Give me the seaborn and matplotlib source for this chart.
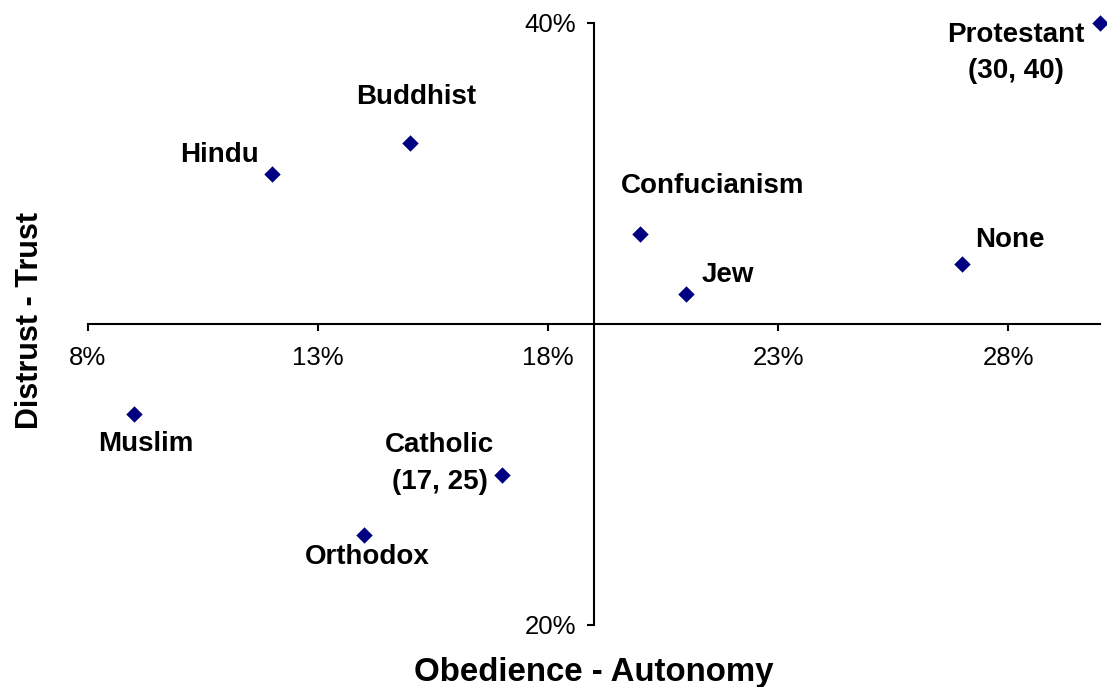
import matplotlib
matplotlib.use("Agg")
import matplotlib.pyplot as plt
import seaborn as sns
import pandas as pd

# Data
religions = ["Protestant", "Buddhist", "Hindu", "Confucianism", "None", "Jew",
             "Muslim", "Catholic", "Orthodox"]
autonomy = [30, 15, 12, 20, 27, 21, 9, 17, 14]
trust = [40, 36, 35, 33, 32, 31, 27, 25, 23]
point_labels = ["Protestant\n(30, 40)", "Buddhist", "Hindu", "Confucianism", "None", "Jew",
                "Muslim", "Catholic\n(17, 25)", "Orthodox"]
x_ticks = [8, 13, 18, 23, 28]
y_ticks = [20, 40]

# label offsets in pixels (dx, dy)
offsets = [(-84, -30), (6, 46), (-53, 19), (73, 48), (48, 24), (42, 19),
           (12, -30), (-62, 11), (3, -22)]

sns.set_style("white")
plt.rcParams["font.family"] = ["Liberation Sans", "DejaVu Sans"]
plt.rcParams["text.color"] = "black"
plt.rcParams["xtick.color"] = "black"
plt.rcParams["ytick.color"] = "black"

df = pd.DataFrame({"religion": religions, "x": autonomy, "y": trust})

fig = plt.figure(figsize=(11.07, 6.87), dpi=100)
ax = fig.add_axes([88 / 1107, 1 - 625 / 687, 1012 / 1107, 602 / 687])

sns.scatterplot(data=df, x="x", y="y", ax=ax, marker="D", color="#000080",
                s=70, edgecolor="#000080", linewidth=0, zorder=5, clip_on=False)

ax.set_xlim(8, 30)
ax.set_ylim(20, 40)

for spine in ["top", "right"]:
    ax.spines[spine].set_visible(False)
ax.spines["left"].set_position(("data", 19))
ax.spines["bottom"].set_position(("data", 30))
for spine in ["left", "bottom"]:
    ax.spines[spine].set_linewidth(1.5)
    ax.spines[spine].set_color("black")

ax.set_xticks(x_ticks)
ax.set_xticklabels([f"{t}%" for t in x_ticks])
ax.set_yticks(y_ticks)
ax.set_yticklabels([f"{t}%" for t in y_ticks])
ax.tick_params(axis="x", direction="out", length=5, width=1.5, labelsize=18.5, pad=11,
               bottom=True, colors="black")
ax.tick_params(axis="y", direction="out", length=5, width=1.5, labelsize=18.5, pad=8,
               left=True, colors="black")
ax.set_xlabel("")
ax.set_ylabel("")

for lab, xv, yv, (dx, dy) in zip(point_labels, autonomy, trust, offsets):
    ax.annotate(lab, (xv, yv), xytext=(dx, dy), textcoords="offset pixels",
                ha="center", va="center", multialignment="center", color="black",
                fontsize=20, fontweight="bold", linespacing=1.55, zorder=6)

fig.text(594 / 1107, 1 - 672 / 687, "Obedience - Autonomy", ha="center", va="center",
         fontsize=23.8, fontweight="bold", color="black")
fig.text(30 / 1107, 1 - 320 / 687, "Distrust - Trust", ha="center", va="center",
         rotation=90, fontsize=22, fontweight="bold", color="black")

fig.savefig("out.png", dpi=100)
